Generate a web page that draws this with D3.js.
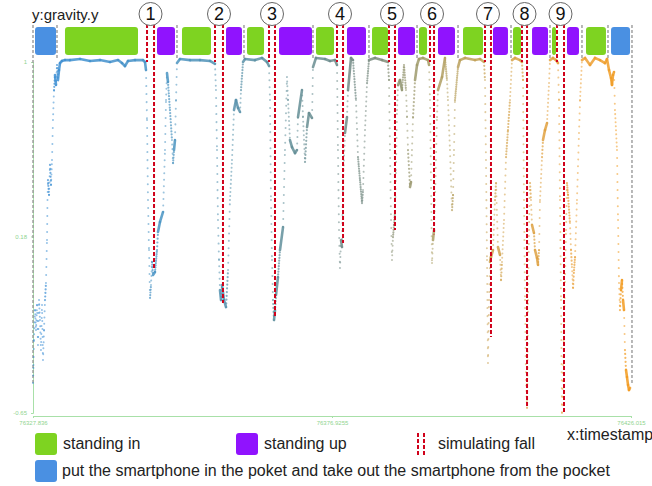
<!DOCTYPE html>
<html>
<head>
<meta charset="utf-8">
<script src="https://cdn.jsdelivr.net/npm/d3@7"></script>
<style>
  body { margin: 0; background: #fff; }
  text { font-family: "Liberation Sans", Arial, sans-serif; }
  .tick text { font-size: 6px; fill: #8fd48f; }
  .axis path, .axis line { stroke: #a8e0a8; }
</style>
</head>
<body>
<div id="graphic" style="width:652px;height:486px;"></div>
<script>
// first timestamp of the recording
const T0 = 76327.836;
const T_SPAN = 98.179;

// tick labels
const xTickValues = [0, 49.0895, 98.179];
const xTickLabels = ["76327.836", "76376.9255", "76426.015"];
const yTickValues = [-0.65, 0.18, 1];
const yTickLabels = ["-0.65", "0.18", "1"];

// gravity.y samples: seconds after T0, value
const sampleTimes = [
  0, 0.08, 0.16, 0.33, 0.49, 0.66, 0.82, 0.99, 1.15, 1.31, 1.48, 1.64, 1.81, 1.97, 2.13, 2.30, 2.38, 2.46, 2.63, 2.79,
  2.96, 3.12, 3.28, 3.45, 3.61, 3.78, 3.94, 4.10, 4.27, 4.43, 4.76, 5.25,
  6.07, 7.72, 9.36, 11.00, 12.64, 13.96, 14.61, 15.10, 15.60, 16.75, 18.06, 18.39,
  18.55, 18.72, 18.88, 19.05, 19.21, 19.37, 19.54, 19.70, 20.03, 20.36, 20.52, 20.85, 21.35, 21.67, 21.84, 22.00,
  22.16, 22.49, 22.82, 22.99, 23.15, 23.31, 23.48, 23.64, 24.13, 25.78, 27.42, 29.06, 29.88,
  30.04, 30.21, 30.37, 30.54, 30.70, 30.87, 31.03, 31.36, 31.69, 32.02, 32.34, 32.67, 33.00, 33.33, 33.66, 33.99,
  34.15, 34.48, 34.81, 36.45, 37.60, 38.42, 38.75,
  38.91, 39.07, 39.24, 39.40, 39.57, 39.73, 39.90, 40.22, 40.55, 41.05, 41.37, 41.70, 41.87, 42.19, 42.52, 43.02,
  43.34, 43.51, 44.16, 44.33, 44.66, 44.99, 45.31, 45.81, 45.97, 46.46, 47.94, 48.76, 49.58, 49.91,
  50.07, 50.24, 50.40, 50.57, 50.73, 50.90, 51.22, 51.55, 51.72, 52.21, 52.54, 53.03, 53.36, 53.69, 54.02, 54.18,
  54.51, 54.84, 55.16, 56.15, 57.30, 58.28,
  58.45, 58.61, 58.78, 58.94, 59.10, 59.27, 59.43, 59.60, 59.76, 59.93, 60.25, 60.58, 60.91, 61.24, 61.41, 61.57,
  61.90, 62.06, 62.22, 62.39, 62.72, 63.05, 63.37, 64.03, 64.85, 65.02,
  65.18, 65.34, 65.51, 65.67, 65.84, 66.00, 66.33, 66.49, 67.15, 67.64, 67.97, 68.13, 68.46, 68.79, 68.96, 69.12,
  69.28, 69.78, 70.10, 70.93, 72.57, 73.39, 74.05,
  74.21, 74.37, 74.54, 74.70, 74.87, 75.03, 75.19, 75.52, 75.85, 76.02, 76.18, 76.34, 76.67, 76.84, 77.00, 77.33,
  77.66, 77.98, 78.31, 78.64, 79.13, 79.96, 80.28,
  80.45, 80.61, 80.78, 80.94, 81.11, 81.27, 81.43, 81.60, 81.76, 81.93, 82.25, 82.42, 82.75, 82.91, 83.08, 83.24,
  83.57, 83.73, 84.06, 84.39, 84.72, 84.88, 85.37, 85.87, 86.19,
  86.36, 86.52, 86.69, 86.85, 87.18, 87.51, 87.67, 87.84, 88.16, 88.33, 88.49, 88.66, 88.82, 88.99, 89.31, 89.64,
  89.81, 90.13, 90.63, 91.45, 92.27, 93.09, 93.91, 94.24, 94.57, 94.90, 95.06, 95.23, 95.39, 95.55, 95.88, 96.05,
  96.21, 96.37, 96.54, 96.70, 96.87, 97.03, 97.19, 97.36, 97.52, 97.69, 97.85, 98.02
];
const sampleValues = [
  -0.509, -0.424, -0.307, -0.166, -0.260, -0.142, -0.330, -0.119, -0.213, -0.354, -0.142, -0.401, -0.260, -0.119, -0.039, 0.163, 0.351, 0.445, 0.375, 0.516,
  0.422, 0.539, 0.727, 0.868, 0.939, 0.892, 0.986, 0.915, 0.962, 0.995, 1.005, 1.009,
  1.009, 1.014, 1.005, 1.009, 1.000, 1.009, 0.995, 0.981, 1.005, 1.009, 1.009, 1.000,
  0.962, 0.727, 0.351, 0.116, -0.109, -0.048, 0.060, -0.001, 0.013, 0.116, 0.201, 0.248, 0.295, 0.586, 0.821, 0.948,
  0.906, 0.774, 0.633, 0.525, 0.586, 0.633, 0.821, 0.995, 1.014, 1.009, 1.009, 1.005, 0.991,
  0.868, 0.586, 0.257, 0.069, -0.072, -0.119, -0.048, -0.119, -0.152, 0.022, 0.351, 0.539, 0.774, 0.821, 0.784, 0.765,
  0.868, 1.000, 1.014, 1.009, 1.019, 1.000, 0.981,
  0.821, 0.351, 0.069, -0.119, -0.213, -0.166, -0.095, -0.011, 0.116, 0.224, 0.586, 0.929, 0.821, 0.633, 0.600, 0.572,
  0.586, 0.741, 0.868, 0.741, 0.530, 0.694, 0.760, 0.737, 0.976, 1.019, 1.014, 1.005, 1.009, 0.986,
  0.586, 0.210, 0.032, 0.163, 0.130, 0.445, 0.666, 0.741, 0.868, 1.019, 1.009, 0.821, 0.553, 0.445, 0.337, 0.398,
  0.680, 0.901, 1.009, 1.019, 1.009, 1.000,
  0.915, 0.586, 0.257, 0.069, 0.177, 0.234, 0.290, 0.492, 0.774, 0.892, 0.915, 0.868, 0.986, 0.868, 0.741, 0.586,
  0.412, 0.436, 0.586, 0.741, 0.915, 0.986, 1.014, 1.019, 1.009, 0.986,
  0.821, 0.445, 0.055, 0.163, 0.210, 0.351, 0.741, 0.868, 0.929, 1.019, 0.915, 0.821, 0.586, 0.304, 0.375, 0.586,
  0.821, 0.976, 1.009, 1.019, 1.009, 1.014, 1.000,
  0.915, 0.539, 0.069, -0.415, -0.119, 0.060, 0.083, 0.116, 0.351, 0.431, 0.281, 0.130, 0.093, -0.025, 0.060, 0.257,
  0.553, 0.680, 0.821, 1.009, 1.019, 1.009, 1.000,
  0.915, 0.351, -0.119, -0.495, -0.626, -0.119, 0.210, 0.431, 0.351, 0.234, 0.196, 0.116, 0.079, 0.046, 0.116, 0.351,
  0.553, 0.633, 0.680, 0.713, 0.901, 1.009, 1.019, 1.009, 0.995,
  0.821, 0.351, -0.119, -0.650, -0.260, 0.210, 0.431, 0.375, 0.243, 0.116, 0.036, -0.062, 0.022, 0.083, 0.351, 0.666,
  0.821, 1.009, 1.019, 0.986, 1.019, 1.009, 0.995, 1.014, 0.962, 0.925, 0.892, 0.939, 0.953, 0.774, 0.586, 0.257,
  -0.039, -0.166, -0.072, -0.025, -0.119, -0.166, -0.354, -0.448, -0.481, -0.518, -0.542, -0.532
];

// activity periods (seconds after T0)
const pocketPeriods = [[0.33, 3.78], [94.90, 98.02]];
const standInPeriods = [[5.25, 17.24], [24.46, 29.22], [35.13, 37.93], [46.46, 49.42], [55.66, 58.28],
  [63.37, 64.69], [70.60, 73.88], [78.81, 80.12], [85.21, 85.87], [90.79, 94.07]];
const standUpPeriods = [[20.36, 23.31], [31.69, 34.31], [40.39, 45.81], [51.55, 54.67], [59.93, 62.72],
  [66.49, 69.28], [75.52, 77.98], [81.93, 84.55], [87.67, 89.64]];
const boundaryTimes = [0, 3.94, 23.64, 34.64, 45.97, 55.16, 63.05, 69.78, 78.48, 84.88, 90.13, 94.40, 98.34];

// simulated falls: start / end line and how deep the end line reaches
const fallLabels = ["1", "2", "3", "4", "5", "6", "7", "8", "9"];
const fallStarts = [18.72, 29.88, 38.75, 49.91, 58.45, 65.18, 74.21, 80.28, 86.03];
const fallEnds = [19.87, 31.19, 39.73, 50.90, 59.43, 65.84, 75.19, 81.11, 87.18];
const fallDepths = [0.022, -0.133, -0.199, 0.149, 0.210, 0.190, -0.293, -0.622, -0.650];

// legend
const legendRow1 = ["standing in", "standing up", "simulating fall"];
const legendRow2 = "put the smartphone in the poket and take out the smartphone from the pocket";

const COLORS = { standIn: "#7ed321", standUp: "#9013fe", pocket: "#4a90e2", fall: "#d0021b", gray: "#9b9b9b" };

const gravityChart = {
  margin: { left: 33, right: 21, top: 62, bottom: 73 },
  el: "#graphic",
  rate: 30, // samples per second, used to space the dots
  parameters(){
    this.outerWidth = 652;
    this.outerHeight = 486;
    this.width = this.outerWidth - this.margin.left - this.margin.right;
    this.height = this.outerHeight - this.margin.top - this.margin.bottom;
  },
  createScales(){
    this.xScale = d3.scaleLinear()
      .domain([T0, T0 + T_SPAN])
      .range([0, this.width]);

    this.yScale = d3.scaleLinear()
      .domain([-0.65, 1])
      .range([this.height, 0]);

    // colour drifts from blue to orange over the recording
    this.colorScale = d3.scaleLinear()
      .domain([0, 22, 40, 55, 65, 78, 90, 98.2].map(d => T0 + d))
      .range(["#3b8ed6", "#4a94c2", "#5f8f9c", "#76897f", "#aa9f66", "#d5a24a", "#eca036", "#f39a1c"]);
  },
  drawPlot(){
    document.querySelector(this.el).innerHTML = "";
    this.svg = d3.select(this.el)
      .append("svg")
      .attr("width", this.outerWidth)
      .attr("height", this.outerHeight);

    this.plot = this.svg.append("g")
      .attr("transform", `translate(${this.margin.left}, ${this.margin.top})`);
  },
  drawAxes(){
    const xAxis = d3.axisBottom(this.xScale)
      .tickValues(xTickValues.map(d => T0 + d))
      .tickFormat((d, i) => xTickLabels[i])
      .tickSize(2)
      .tickPadding(3);

    const yAxis = d3.axisLeft(this.yScale)
      .tickValues(yTickValues)
      .tickFormat((d, i) => yTickLabels[i])
      .tickSize(2)
      .tickPadding(4);

    this.plot.append("g")
      .attr("class", "axis xaxis")
      .attr("transform", `translate(0, ${this.height + 3})`)
      .call(xAxis);

    this.plot.append("g")
      .attr("class", "axis yaxis")
      .call(yAxis);

    this.plot.selectAll(".axis .domain").attr("stroke", "#a8e0a8");
  },
  drawBands(){
    const that = this;
    const x = t => that.xScale(T0 + t);
    const bandTop = -35, bandH = 28;

    // gray boundaries
    this.plot.append("g").selectAll("line")
      .data(boundaryTimes)
      .enter().append("line")
      .attr("x1", d => x(d)).attr("x2", d => x(d))
      .attr("y1", bandTop - 2)
      .attr("y2", (d, i) => (i === 0 || i === boundaryTimes.length - 1) ? that.yScale(-0.51) : -4)
      .attr("stroke", COLORS.gray)
      .attr("stroke-width", 1.4)
      .attr("stroke-dasharray", "3 2");

    const periods = [
      ...pocketPeriods.map(p => ({ p, c: COLORS.pocket })),
      ...standInPeriods.map(p => ({ p, c: COLORS.standIn })),
      ...standUpPeriods.map(p => ({ p, c: COLORS.standUp }))
    ];
    this.plot.append("g").selectAll("rect")
      .data(periods)
      .enter().append("rect")
      .attr("x", d => x(d.p[0]))
      .attr("width", d => x(d.p[1]) - x(d.p[0]))
      .attr("y", bandTop)
      .attr("height", bandH)
      .attr("rx", 3)
      .attr("fill", d => d.c);
  },
  drawData(){
    const that = this;
    const pts = sampleTimes.map((t, i) => ({ t: T0 + t, v: sampleValues[i] }));
    const segs = d3.pairs(pts);

    // sparse samples show as dots, dense ones merge into a line
    this.plot.append("g")
      .attr("class", "samples")
      .selectAll("line")
      .data(segs)
      .enter().append("line")
      .attr("x1", d => that.xScale(d[0].t))
      .attr("y1", d => that.yScale(d[0].v))
      .attr("x2", d => that.xScale(d[1].t))
      .attr("y2", d => that.yScale(d[1].v))
      .attr("stroke", d => that.colorScale(d[0].t))
      .attr("stroke-linecap", "round")
      .each(function(d){
        const dx = that.xScale(d[1].t) - that.xScale(d[0].t);
        const dy = that.yScale(d[1].v) - that.yScale(d[0].v);
        const len = Math.sqrt(dx * dx + dy * dy);
        const n = Math.max(1, (d[1].t - d[0].t) * that.rate);
        const gap = Math.min(8, len / n);
        const sel = d3.select(this);
        if (gap < 2.2) {
          sel.attr("stroke-width", 2.6).attr("stroke-opacity", 0.85);
        } else if (gap < 4) {
          sel.attr("stroke-width", 2.2)
            .attr("stroke-opacity", 0.7)
            .attr("stroke-dasharray", `0.01 ${gap.toFixed(2)}`);
        } else {
          sel.attr("stroke-width", 2)
            .attr("stroke-opacity", 0.55)
            .attr("stroke-dasharray", `0.01 ${gap.toFixed(2)}`);
        }
      });
  },
  drawFalls(){
    const that = this;
    const x = t => that.xScale(T0 + t);
    const g = this.plot.append("g").attr("class", "falls");
    const top = -38;

    g.selectAll(".fall-start")
      .data(fallStarts)
      .enter().append("line")
      .attr("class", "fall-start")
      .attr("x1", d => x(d)).attr("x2", d => x(d))
      .attr("y1", top).attr("y2", 0)
      .attr("stroke", COLORS.fall)
      .attr("stroke-width", 2)
      .attr("stroke-dasharray", "4 2");

    g.selectAll(".fall-end")
      .data(fallEnds)
      .enter().append("line")
      .attr("class", "fall-end")
      .attr("x1", d => x(d)).attr("x2", d => x(d))
      .attr("y1", top)
      .attr("y2", (d, i) => that.yScale(fallDepths[i]))
      .attr("stroke", COLORS.fall)
      .attr("stroke-width", 2)
      .attr("stroke-dasharray", "4 2");

    const badges = g.selectAll(".badge")
      .data(fallLabels)
      .enter().append("g")
      .attr("class", "badge")
      .attr("transform", (d, i) => `translate(${(x(fallStarts[i]) + x(fallEnds[i])) / 2}, -48)`);

    badges.append("circle")
      .attr("r", 11.5)
      .attr("fill", "#fff")
      .attr("stroke", "#666")
      .attr("stroke-width", 1);

    badges.append("text")
      .attr("text-anchor", "middle")
      .attr("dy", "0.36em")
      .attr("font-size", 18)
      .attr("fill", "#111")
      .text(d => d);
  },
  drawLabels(){
    this.svg.append("text")
      .attr("x", 32).attr("y", 20)
      .attr("font-size", 15)
      .attr("fill", "#222")
      .text("y:gravity.y");

    this.svg.append("text")
      .attr("x", 567).attr("y", 440)
      .attr("font-size", 16)
      .attr("fill", "#222")
      .text("x:timestamp");
  },
  drawLegend(){
    const leg = this.svg.append("g").attr("class", "legend");
    const row1X = [35, 236, 415];
    const row1Colors = [COLORS.standIn, COLORS.standUp, null];

    const items = leg.selectAll(".item")
      .data(legendRow1)
      .enter().append("g")
      .attr("class", "item")
      .attr("transform", (d, i) => `translate(${row1X[i]}, 433)`);

    items.each(function(d, i){
      const it = d3.select(this);
      if (row1Colors[i]) {
        it.append("rect").attr("width", 22).attr("height", 22).attr("rx", 3).attr("fill", row1Colors[i]);
        it.append("text").attr("x", 28).attr("y", 16).attr("font-size", 16).attr("fill", "#222").text(d);
      } else {
        [3, 9].forEach(dx => {
          it.append("line").attr("x1", dx).attr("x2", dx).attr("y1", 0).attr("y2", 22)
            .attr("stroke", COLORS.fall).attr("stroke-width", 2).attr("stroke-dasharray", "4 2");
        });
        it.append("text").attr("x", 23).attr("y", 16).attr("font-size", 16).attr("fill", "#222").text(d);
      }
    });

    const row2 = leg.append("g").attr("transform", "translate(35, 460)");
    row2.append("rect").attr("width", 22).attr("height", 22).attr("rx", 3).attr("fill", COLORS.pocket);
    row2.append("text").attr("x", 27).attr("y", 16).attr("font-size", 16).attr("fill", "#222").text(legendRow2);
  },
  draw(){
    this.parameters();
    this.createScales();
    this.drawPlot();
    this.drawAxes();
    this.drawBands();
    this.drawData();
    this.drawFalls();
    this.drawLabels();
    this.drawLegend();
  }
};

gravityChart.draw();
</script>
</body>
</html>
